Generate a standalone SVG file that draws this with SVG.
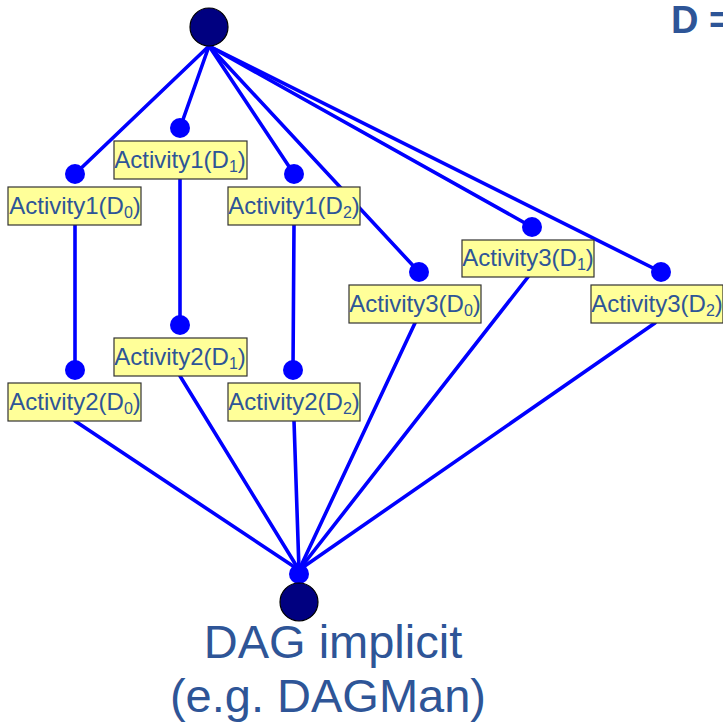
<svg xmlns="http://www.w3.org/2000/svg" width="723" height="723" viewBox="0 0 723 723">
  <style>
    .edge { stroke: #0000FF; stroke-width: 3.6; stroke-linecap: round; fill: none; }
    .port { fill: #0000FF; }
    .terminal { fill: #000080; stroke: #000000; stroke-width: 1.2; }
    .box { fill: #FFFF99; stroke: #333333; stroke-width: 1.2; }
    .lbl { font-family: "Liberation Sans", Arial, sans-serif; font-size: 24px; fill: #2E5597; text-anchor: middle; }
    .sub { font-size: 16px; }
    .caption { font-family: "Liberation Sans", Arial, sans-serif; font-size: 47px; fill: #2E5597; text-anchor: middle; }
    .title { font-family: "Liberation Sans", Arial, sans-serif; font-size: 38px; font-weight: bold; fill: #2E5597; }
  </style>

  <!-- connectors -->
  <g id="connectors">
    <line class="edge" x1="209" y1="46" x2="75" y2="174"/>
    <line class="edge" x1="209" y1="46" x2="180" y2="128"/>
    <line class="edge" x1="209" y1="46" x2="294" y2="174"/>
    <line class="edge" x1="209" y1="46" x2="419" y2="272"/>
    <line class="edge" x1="209" y1="46" x2="532" y2="227"/>
    <line class="edge" x1="209" y1="46" x2="661" y2="272"/>

    <line class="edge" x1="75" y1="225" x2="75" y2="370"/>
    <line class="edge" x1="180" y1="179" x2="180" y2="325"/>
    <line class="edge" x1="294" y1="225" x2="293" y2="370"/>

    <line class="edge" x1="75" y1="421" x2="299" y2="570"/>
    <line class="edge" x1="180" y1="376" x2="299" y2="570"/>
    <line class="edge" x1="294" y1="421" x2="299" y2="570"/>
    <line class="edge" x1="415" y1="323" x2="299" y2="570"/>
    <line class="edge" x1="528" y1="277" x2="299" y2="570"/>
    <line class="edge" x1="655" y1="323" x2="299" y2="570"/>
  </g>

  <!-- start / end nodes -->
  <g id="start">
    <circle class="terminal" cx="209" cy="27" r="19"/>
  </g>
  <g id="end">
    <circle class="port" cx="299" cy="574" r="10"/>
    <circle class="terminal" cx="299" cy="602" r="19"/>
  </g>

  <!-- activity nodes -->
  <g id="a1d0">
    <circle class="port" cx="75" cy="174" r="10"/>
    <rect class="box" x="8" y="187" width="133" height="38"/>
    <text class="lbl" x="75" y="214">Activity1(D<tspan class="sub" dy="4">0</tspan><tspan dy="-4">)</tspan></text>
  </g>
  <g id="a1d1">
    <circle class="port" cx="180" cy="128" r="10"/>
    <rect class="box" x="114" y="141" width="133" height="38"/>
    <text class="lbl" x="180" y="168">Activity1(D<tspan class="sub" dy="4">1</tspan><tspan dy="-4">)</tspan></text>
  </g>
  <g id="a1d2">
    <circle class="port" cx="294" cy="174" r="10"/>
    <rect class="box" x="228" y="187" width="132" height="38"/>
    <text class="lbl" x="294" y="214">Activity1(D<tspan class="sub" dy="4">2</tspan><tspan dy="-4">)</tspan></text>
  </g>

  <g id="a2d0">
    <circle class="port" cx="75" cy="370" r="10"/>
    <rect class="box" x="8" y="383" width="133" height="38"/>
    <text class="lbl" x="75" y="410">Activity2(D<tspan class="sub" dy="4">0</tspan><tspan dy="-4">)</tspan></text>
  </g>
  <g id="a2d1">
    <circle class="port" cx="180" cy="325" r="10"/>
    <rect class="box" x="114" y="338" width="133" height="38"/>
    <text class="lbl" x="180" y="365">Activity2(D<tspan class="sub" dy="4">1</tspan><tspan dy="-4">)</tspan></text>
  </g>
  <g id="a2d2">
    <circle class="port" cx="293" cy="370" r="10"/>
    <rect class="box" x="228" y="383" width="132" height="38"/>
    <text class="lbl" x="294" y="410">Activity2(D<tspan class="sub" dy="4">2</tspan><tspan dy="-4">)</tspan></text>
  </g>

  <g id="a3d0">
    <circle class="port" cx="419" cy="272" r="10"/>
    <rect class="box" x="349" y="285" width="132" height="38"/>
    <text class="lbl" x="415" y="312">Activity3(D<tspan class="sub" dy="4">0</tspan><tspan dy="-4">)</tspan></text>
  </g>
  <g id="a3d1">
    <circle class="port" cx="532" cy="227" r="10"/>
    <rect class="box" x="462" y="240" width="132" height="37"/>
    <text class="lbl" x="528" y="266">Activity3(D<tspan class="sub" dy="4">1</tspan><tspan dy="-4">)</tspan></text>
  </g>
  <g id="a3d2">
    <circle class="port" cx="661" cy="272" r="10"/>
    <rect class="box" x="591" y="285" width="132" height="38"/>
    <text class="lbl" x="657" y="312">Activity3(D<tspan class="sub" dy="4">2</tspan><tspan dy="-4">)</tspan></text>
  </g>

  <!-- captions -->
  <text class="title" x="671" y="33">D =</text>
  <text class="caption" x="333" y="658">DAG implicit</text>
  <text class="caption" x="328" y="712">(e.g. DAGMan)</text>
</svg>
